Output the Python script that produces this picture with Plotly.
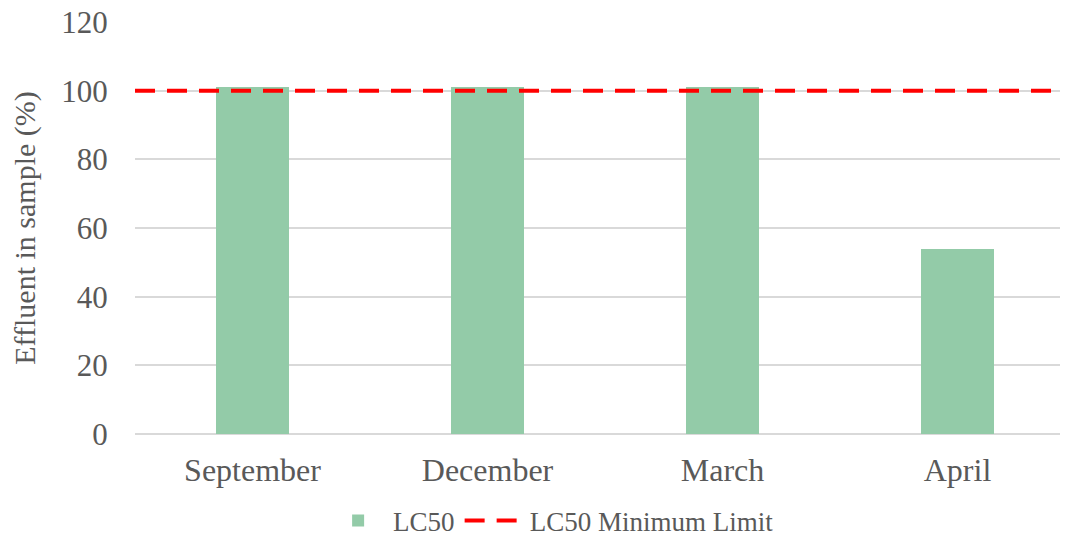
import plotly.graph_objects as go

months = ["September", "December", "March", "April"]
lc50 = [101, 101, 101, 54]
limit_value = 100
y_ticks = [0, 20, 40, 60, 80, 100, 120]

x_pos = list(range(len(months)))
font_family = "Liberation Serif, Times New Roman, serif"
grey = "#595959"

fig = go.Figure()
fig.add_trace(go.Bar(
    x=x_pos, y=lc50, name="LC50",
    marker=dict(color="#93CBA8", line=dict(width=0)),
    width=0.31,
))
fig.add_trace(go.Scatter(
    x=[-0.5, len(months) - 0.5], y=[limit_value, limit_value],
    mode="lines", name="LC50 Minimum Limit",
    line=dict(color="#FF0000", width=4, dash="20px,12px"),
))

fig.update_layout(
    width=1060, height=538,
    margin=dict(l=127, r=0, t=14, b=112, autoexpand=False),
    paper_bgcolor="white", plot_bgcolor="white",
    font=dict(family=font_family, color=grey, size=28),
    showlegend=True,
    legend=dict(
        orientation="h", x=0.446, xanchor="center",
        y=-0.211, yanchor="middle",
        font=dict(size=27, color=grey), itemwidth=60,
    ),
    xaxis=dict(
        tickmode="array", tickvals=x_pos, ticktext=months,
        range=[-0.5, 933 / 235 - 0.5],
        showgrid=False, zeroline=False, showline=False,
        ticks="outside", ticklen=8, tickcolor="rgba(0,0,0,0)",
        tickfont=dict(size=32, color=grey),
        ticklabeloverflow="allow",
    ),
    yaxis=dict(
        range=[0, 120], tickvals=y_ticks,
        showgrid=True, gridcolor="#D9D9D9", gridwidth=1.5,
        zeroline=True, zerolinecolor="#D9D9D9", zerolinewidth=1.5,
        showline=False, ticks="outside", ticklen=20, tickcolor="rgba(0,0,0,0)",
        tickfont=dict(size=31, color=grey),
        ticklabeloverflow="allow",
        title=dict(text="Effluent in sample (%)", font=dict(size=30, color=grey), standoff=29),
    ),
    bargap=0,
)

fig.write_html("out.html")
